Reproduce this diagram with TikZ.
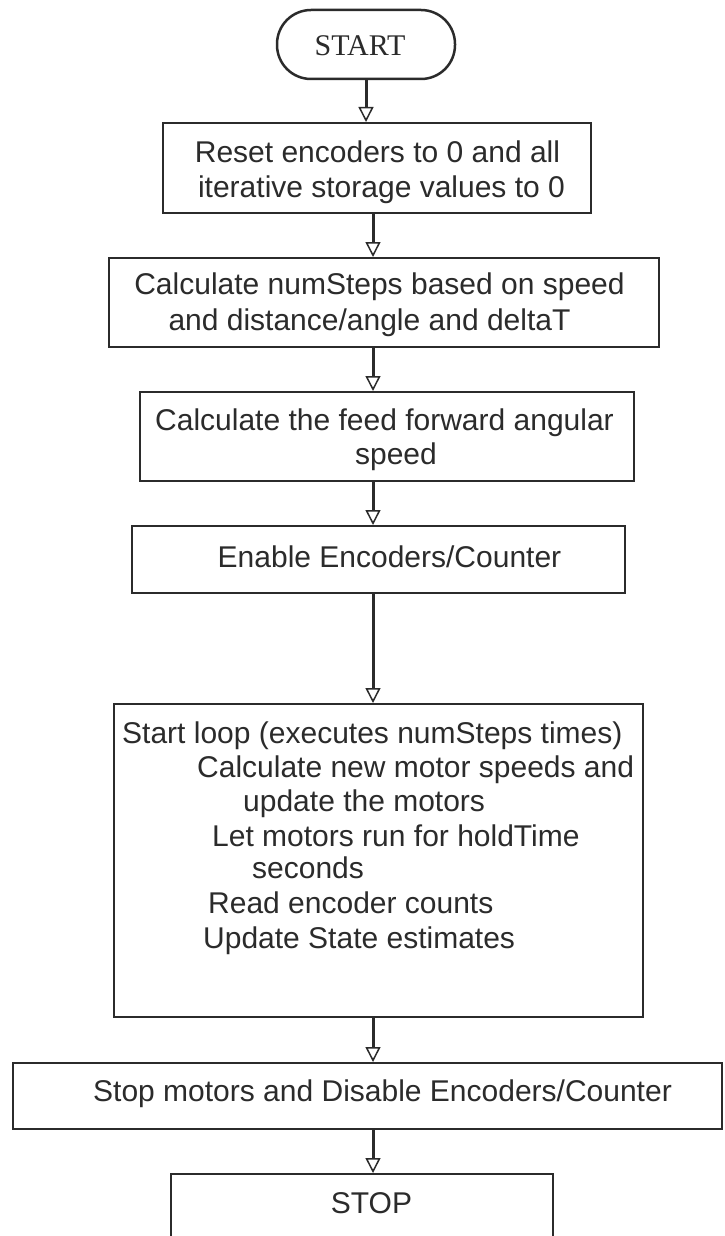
\documentclass[tikz,border=0pt]{standalone}
\usepackage{fontspec}
\setmainfont{Liberation Sans}
\newfontfamily\startfont{Liberation Serif}
\usetikzlibrary{arrows.meta}
\definecolor{ink}{HTML}{2B2B2B}
\begin{document}
\begin{tikzpicture}[x=1pt,y=-1pt,
  box/.style={draw=ink, line width=2pt, inner sep=0pt, fill=white},
  txt/.style={text=ink, font=\fontsize{30}{34.5}\selectfont, inner sep=0pt, anchor=base},
  ltxt/.style={txt, anchor=base west},
  flow/.style={draw=ink, line width=3pt, -{Triangle[open, length=15pt, width=15pt, line width=1.5pt]}}]
\useasboundingbox (0,0) rectangle (724,1236);
\clip (0,0) rectangle (724,1236);
\fill[white] (0,0) rectangle (724,1236);

% shapes
\node[box, rounded corners=34pt, minimum width=178pt, minimum height=69pt, line width=2.5pt] (start) at (366,44.5) {};
\node[box, minimum width=428pt, minimum height=90pt] (b1) at (377,168) {};
\node[box, minimum width=550pt, minimum height=89pt] (b2) at (384,302.5) {};
\node[box, minimum width=494pt, minimum height=89pt] (b3) at (387,436.5) {};
\node[box, minimum width=493pt, minimum height=67pt] (b4) at (378.5,559.5) {};
\node[box, minimum width=529pt, minimum height=313pt] (b5) at (378.5,860.5) {};
\node[box, minimum width=709pt, minimum height=66pt] (b6) at (367.5,1096) {};
\node[box, minimum width=382pt, minimum height=126pt] (stop) at (362,1237) {};

% texts
\node[txt, font=\startfont\fontsize{30}{34.5}\selectfont] (tstart) at (360,56) {START};
\node[txt] (t1a) at (377.5,162) {Reset encoders to 0 and all};
\node[txt] (t1b) at (381.5,197) {iterative storage values to 0};
\node[txt] (t2a) at (379.5,294) {Calculate numSteps based on speed};
\node[txt] (t2b) at (369.5,330) {and distance/angle and deltaT};
\node[txt] (t3a) at (384.5,430) {Calculate the feed forward angular};
\node[txt] (t3b) at (396,464) {speed};
\node[txt] (t4) at (389.5,567) {Enable Encoders/Counter};
\node[ltxt] (t5a) at (122,743) {Start loop (executes numSteps times)};
\node[ltxt] (t5b) at (197,777) {Calculate new motor speeds and};
\node[ltxt] (t5c) at (243,811) {update the motors};
\node[ltxt] (t5d) at (212,846) {Let motors run for holdTime};
\node[ltxt] (t5e) at (252,878) {seconds};
\node[ltxt] (t5f) at (208,913) {Read encoder counts};
\node[ltxt] (t5g) at (203,948) {Update State estimates};
\node[ltxt] (t6) at (93,1101) {Stop motors and Disable Encoders/Counter};
\node[txt] (tstop) at (371.5,1213) {STOP};

% connectors
\coordinate (ax) at (373,0);
\draw[flow] (start.south) -- (b1.north -| start.south);
\draw[flow] (b1.south -| ax) -- (b2.north -| ax);
\draw[flow] (b2.south -| ax) -- (b3.north -| ax);
\draw[flow] (b3.south -| ax) -- (b4.north -| ax);
\draw[flow] (b4.south -| ax) -- (b5.north -| ax);
\draw[flow] (b5.south -| ax) -- (b6.north -| ax);
\draw[flow] (b6.south -| ax) -- (stop.north -| ax);
\end{tikzpicture}
\end{document}
